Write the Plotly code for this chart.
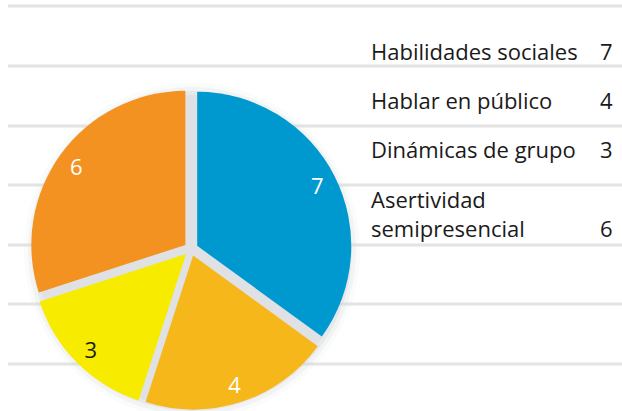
import plotly.graph_objects as go

labels = ["Habilidades sociales", "Hablar en público", "Dinámicas de grupo", "Asertividad semipresencial"]
legend_text = ["Habilidades sociales", "Hablar en público", "Dinámicas de grupo", "Asertividad<br>semipresencial"]
values = [7, 4, 3, 6]
colors = ["#0099CF", "#F5B71A", "#F7EC00", "#F39221"]
text_colors = ["white", "white", "#1a1a1a", "white"]

W, H = 622, 411
FONT = "Open Sans"


def px(x):
    return x / W


def py(y):
    return 1 - y / H


pie_dom = dict(x=[px(30), px(352)], y=[py(410), py(88)])

fig = go.Figure()

# coloured slices
fig.add_trace(go.Pie(
    labels=labels, values=values, sort=False, direction="clockwise", rotation=0,
    pull=0.045,
    marker=dict(colors=colors, line=dict(width=0)),
    textinfo="none",
    domain=pie_dom, showlegend=False, hoverinfo="label+value",
))
# transparent ring used only to place the value labels near the rim
fig.add_trace(go.Pie(
    labels=labels, values=values, sort=False, direction="clockwise", rotation=0,
    pull=0.045, hole=0.75,
    marker=dict(colors=["rgba(0,0,0,0)"] * len(values), line=dict(width=0)),
    textinfo="value", textposition="inside", insidetextorientation="horizontal",
    textfont=dict(family=FONT, size=22, color=text_colors),
    domain=pie_dom, showlegend=False, hoverinfo="skip",
))

shapes = []
for ypx in [6, 66, 126, 185, 245, 304, 364]:
    shapes.append(dict(type="line", xref="paper", yref="paper",
                       x0=px(8), x1=1, y0=py(ypx), y1=py(ypx),
                       line=dict(color="#E4E4E4", width=3), layer="below"))
cx, cy = 192, 251
for rad, col in [(168, "rgba(210,213,217,0.10)"), (164, "rgba(210,213,217,0.18)"),
                 (160, "rgba(210,213,217,0.35)"), (156, "#DFE1E4")]:
    shapes.append(dict(type="circle", xref="paper", yref="paper",
                       x0=px(cx - rad), x1=px(cx + rad), y0=py(cy + rad), y1=py(cy - rad),
                       fillcolor=col, line=dict(width=0), layer="below"))

annotations = []
row_y = [51, 100, 149, 213.5]
val_y = [51, 100, 149, 228]
for t, v, ty, vy in zip(legend_text, values, row_y, val_y):
    annotations.append(dict(text=t, x=px(369), y=py(ty), xref="paper", yref="paper",
                            xanchor="left", yanchor="middle", align="left", showarrow=False,
                            font=dict(family=FONT, size=22, color="#1a1a1a")))
    annotations.append(dict(text=str(v), x=px(606), y=py(vy), xref="paper", yref="paper",
                            xanchor="center", yanchor="middle", showarrow=False,
                            font=dict(family=FONT, size=22, color="#1a1a1a")))

fig.update_layout(
    width=W, height=H,
    margin=dict(l=0, r=0, t=0, b=0),
    paper_bgcolor="white", plot_bgcolor="white",
    shapes=shapes, annotations=annotations,
)

fig.write_html("out.html", config={"displayModeBar": False},
               post_script="document.body.style.margin='0';")
